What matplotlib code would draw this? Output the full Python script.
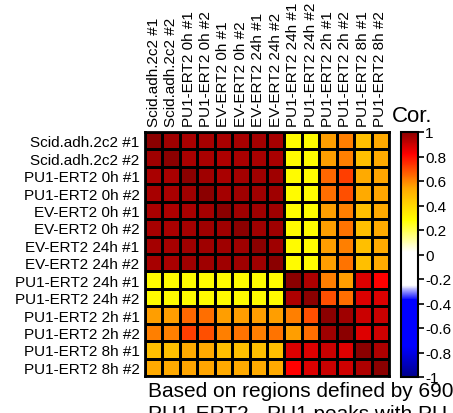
import matplotlib
matplotlib.use("Agg")
import matplotlib.pyplot as plt
import numpy as np
from matplotlib.colors import LinearSegmentedColormap, Normalize
from matplotlib.cm import ScalarMappable

plt.rcParams['font.family'] = ['Liberation Sans', 'DejaVu Sans']
plt.rcParams['axes.unicode_minus'] = False

samples = [
    "Scid.adh.2c2 #1", "Scid.adh.2c2 #2",
    "PU1-ERT2 0h #1", "PU1-ERT2 0h #2",
    "EV-ERT2 0h #1", "EV-ERT2 0h #2",
    "EV-ERT2 24h #1", "EV-ERT2 24h #2",
    "PU1-ERT2 24h #1", "PU1-ERT2 24h #2",
    "PU1-ERT2 2h #1", "PU1-ERT2 2h #2",
    "PU1-ERT2 8h #1", "PU1-ERT2 8h #2",
]

cor_values = [
    [1.00, 0.967, 0.95, 0.955, 0.95, 0.955, 0.96, 0.955, 0.29, 0.29, 0.56, 0.61, 0.47, 0.535],
    [0.967, 1.00, 0.95, 0.95, 0.943, 0.95, 0.955, 0.95, 0.29, 0.29, 0.56, 0.61, 0.47, 0.535],
    [0.95, 0.95, 1.00, 0.967, 0.95, 0.96, 0.967, 0.965, 0.29, 0.29, 0.65, 0.715, 0.535, 0.55],
    [0.955, 0.95, 0.967, 1.00, 0.96, 0.965, 0.967, 0.965, 0.29, 0.29, 0.64, 0.69, 0.535, 0.55],
    [0.95, 0.943, 0.95, 0.96, 1.00, 0.965, 0.967, 0.967, 0.29, 0.29, 0.56, 0.61, 0.47, 0.535],
    [0.955, 0.95, 0.96, 0.965, 0.965, 1.00, 0.967, 0.967, 0.29, 0.29, 0.56, 0.63, 0.47, 0.535],
    [0.96, 0.955, 0.967, 0.967, 0.967, 0.967, 1.00, 0.967, 0.29, 0.29, 0.56, 0.61, 0.47, 0.535],
    [0.955, 0.95, 0.965, 0.965, 0.967, 0.967, 0.967, 1.00, 0.29, 0.29, 0.56, 0.63, 0.47, 0.535],
    [0.29, 0.29, 0.29, 0.29, 0.29, 0.29, 0.29, 0.29, 1.00, 0.943, 0.61, 0.56, 0.873, 0.82],
    [0.29, 0.29, 0.29, 0.29, 0.29, 0.29, 0.29, 0.29, 0.943, 1.00, 0.69, 0.64, 0.873, 0.873],
    [0.56, 0.56, 0.65, 0.64, 0.56, 0.56, 0.56, 0.56, 0.61, 0.69, 1.00, 0.967, 0.90, 0.90],
    [0.61, 0.61, 0.715, 0.69, 0.61, 0.63, 0.61, 0.63, 0.56, 0.64, 0.967, 1.00, 0.868, 0.893],
    [0.47, 0.47, 0.535, 0.535, 0.47, 0.47, 0.47, 0.47, 0.873, 0.873, 0.90, 0.868, 1.00, 0.943],
    [0.535, 0.535, 0.55, 0.55, 0.535, 0.535, 0.535, 0.535, 0.82, 0.873, 0.90, 0.893, 0.943, 1.00],
]

cbar_ticks = [1, 0.8, 0.6, 0.4, 0.2, 0, -0.2, -0.4, -0.6, -0.8, -1]
cbar_ticklabels = ["1", "0.8", "0.6", "0.4", "0.2", "0", "-0.2", "-0.4", "-0.6", "-0.8", "-1"]

note_lines = ["Based on regions defined by 690", "PU1-ERT2 - PU1 peaks with PU"]

# colour ramp: dark blue - blue - white - yellow - orange - red - dark red over [-1, 1]
anchors = [(-1.0, "#00008B"), (-0.75, "#0000FF"), (-0.37, "#0000FF"), (-0.25, "#FFFFFF"),
           (0.02, "#FFFFFF"), (0.28, "#FFFF00"), (0.55, "#FFA500"), (0.82, "#FF0000"),
           (1.0, "#8B0000")]
cmap = LinearSegmentedColormap.from_list(
    "cor", [((v + 1) / 2, c) for v, c in anchors], N=512)
norm = Normalize(vmin=-1, vmax=1)

W, H = 453, 414
fig = plt.figure(figsize=(W / 100, H / 100), dpi=100)

def px_axes(x0, y0, x1, y1):
    return fig.add_axes([x0 / W, 1 - y1 / H, (x1 - x0) / W, (y1 - y0) / H])

ax = px_axes(145, 133, 389, 377)
M = np.array(cor_values)
n = len(samples)
ax.pcolormesh(np.arange(n + 1), np.arange(n + 1), M, cmap=cmap, norm=norm,
              edgecolors="black", linewidth=2.0)
ax.set_xlim(0, n)
ax.set_ylim(n, 0)
ax.set_xticks(np.arange(n) + 0.5)
ax.set_yticks(np.arange(n) + 0.5)
ax.set_xticklabels(samples, rotation=90, fontsize=11)
ax.set_yticklabels(samples, fontsize=11)
ax.xaxis.tick_top()
ax.tick_params(length=0, pad=4)
for s in ax.spines.values():
    s.set_linewidth(2.0)

cax = px_axes(401, 133, 418, 378)
cb = fig.colorbar(ScalarMappable(norm=norm, cmap=cmap), cax=cax)
cb.set_ticks(cbar_ticks)
cb.set_ticklabels(cbar_ticklabels)
cb.outline.set_linewidth(1.5)
cax.tick_params(labelsize=11, length=4, width=1.2, pad=1)
fig.text(392 / W, 1 - 122 / H, "Cor.", fontsize=16, ha="left", va="baseline")

fig.text(148 / W, 1 - 397 / H, note_lines[0], fontsize=15, ha="left", va="baseline")
fig.text(148 / W, 1 - 420 / H, note_lines[1], fontsize=15, ha="left", va="baseline")

fig.savefig("out.png", dpi=100)
